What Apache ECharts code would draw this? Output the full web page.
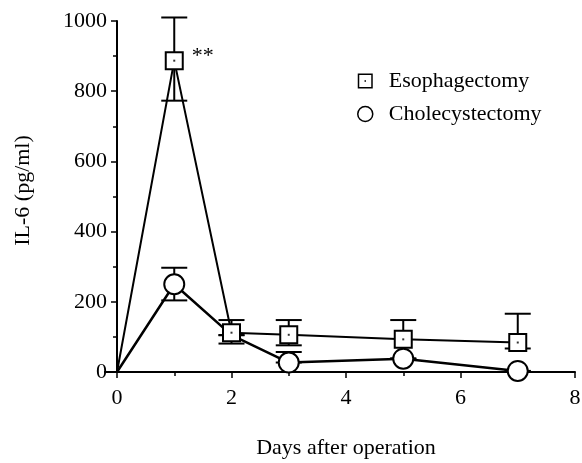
<!DOCTYPE html>
<html>
<head>
<meta charset="utf-8">
<script src="https://cdn.jsdelivr.net/npm/echarts@6/dist/echarts.min.js"></script>
<style>
  html, body { margin: 0; padding: 0; background: #fff; }
  #main { width: 582px; height: 463px; }
</style>
</head>
<body>
<div id="main"></div>
<script>
// days after operation
var days = [0, 1, 2, 3, 5, 7];
// Esophagectomy: mean, upper and lower error bar ends (pg/ml)
var esoMean  = [0, 887, 112, 106, 93, 84];
var esoUpper = [0, 1010, 148, 148, 148, 166];
var esoLower = [0, 773, 81, 76, 38, 67];
// Cholecystectomy: mean, upper and lower error bar ends (pg/ml)
var cholMean  = [0, 250, 105, 27, 38, 3];
var cholUpper = [0, 297, 105, 57, 38, 3];
var cholLower = [0, 204, 105, 27, 38, 3];
var xTicks = [0, 2, 4, 6, 8];
var yTicks = [0, 200, 400, 600, 800, 1000];

var serif = 'Liberation Serif';

function pairs(ys, hidden) {
  return days.map(function (d, i) {
    var item = { value: [d, ys[i]] };
    if (hidden.indexOf(i) >= 0) item.symbolSize = 0;
    return item;
  });
}
function errData(lo, hi) {
  return days.map(function (d, i) { return [d, lo[i], hi[i]]; });
}
function errRender(params, api) {
  var x = api.value(0);
  var lo = api.coord([x, api.value(1)]);
  var hi = api.coord([x, api.value(2)]);
  var w = 13;
  var st = { stroke: '#000', lineWidth: 2 };
  return {
    type: 'group',
    children: [
      { type: 'line', shape: { x1: lo[0], y1: lo[1], x2: hi[0], y2: hi[1] }, style: st },
      { type: 'line', shape: { x1: hi[0] - w, y1: hi[1], x2: hi[0] + w, y2: hi[1] }, style: st },
      { type: 'line', shape: { x1: lo[0] - w, y1: lo[1], x2: lo[0] + w, y2: lo[1] }, style: st }
    ]
  };
}

var myChart = echarts.init(document.getElementById('main'));
var option = {
  backgroundColor: '#fff',
  animation: false,
  textStyle: { fontFamily: serif, color: '#000' },
  grid: { left: 117, right: 7, top: 21, bottom: 91, outerBoundsMode: 'none', containLabel: false },
  legend: {
    orient: 'vertical',
    left: 352,
    top: 65,
    itemWidth: 15,
    itemHeight: 15,
    itemGap: 11,
    textStyle: { fontFamily: serif, fontSize: 22, color: '#000', padding: [0, 0, 0, 11] },
    data: [
      { name: 'Esophagectomy', icon: 'path://M0,0H20V20H0Z M2,2V18H18V2Z M9,9H11V11H9Z',
        itemStyle: { color: '#000', borderWidth: 0 } },
      { name: 'Cholecystectomy', icon: 'circle',
        itemStyle: { color: '#fff', borderColor: '#000', borderWidth: 1.5 } }
    ]
  },
  xAxis: {
    type: 'value',
    min: xTicks[0],
    max: xTicks[xTicks.length - 1],
    interval: 2,
    name: 'Days after operation',
    nameLocation: 'middle',
    nameGap: 65,
    nameTextStyle: { fontFamily: serif, fontSize: 22, color: '#000' },
    axisLine: { lineStyle: { color: '#000', width: 2 } },
    axisTick: { inside: false, length: 6, lineStyle: { color: '#000', width: 1.5 } },
    minorTick: { show: true, splitNumber: 2, length: 4, lineStyle: { color: '#000', width: 1.5 } },
    axisLabel: { fontFamily: serif, fontSize: 22, color: '#000', margin: 15 },
    splitLine: { show: false }
  },
  yAxis: {
    type: 'value',
    min: yTicks[0],
    max: yTicks[yTicks.length - 1],
    interval: 200,
    name: 'IL-6 (pg/ml)',
    nameLocation: 'middle',
    nameGap: 83,
    nameTextStyle: { fontFamily: serif, fontSize: 22, color: '#000', padding: [0, 0, 0, 12] },
    axisLine: { show: true, lineStyle: { color: '#000', width: 2 } },
    axisTick: { show: true, inside: false, length: 6, lineStyle: { color: '#000', width: 1.5 } },
    minorTick: { show: true, splitNumber: 2, length: 4, lineStyle: { color: '#000', width: 1.5 } },
    axisLabel: { fontFamily: serif, fontSize: 22, color: '#000', margin: 10,
      formatter: function (v) { return String(v); } },
    splitLine: { show: false }
  },
  series: [
    {
      name: 'esoErr',
      type: 'custom',
      renderItem: errRender,
      data: errData(esoLower, esoUpper),
      encode: { x: 0, y: [1, 2] },
      z: 1,
      silent: true
    },
    {
      name: 'cholErr',
      type: 'custom',
      renderItem: errRender,
      data: errData(cholLower, cholUpper),
      encode: { x: 0, y: [1, 2] },
      z: 1,
      silent: true
    },
    {
      name: 'Cholecystectomy',
      type: 'line',
      data: pairs(cholMean, [0, 2]),
      symbol: 'circle',
      symbolSize: 20,
      showAllSymbol: true,
      lineStyle: { color: '#000', width: 2.5 },
      itemStyle: { color: '#fff', borderColor: '#000', borderWidth: 2 },
      z: 3
    },
    {
      name: 'Esophagectomy',
      type: 'line',
      data: pairs(esoMean, [0]).map(function (it, i) {
        if (i === 1) it.label = { show: true, formatter: '**', position: 'right', distance: 8,
          offset: [0, -4], fontFamily: serif, fontSize: 22, color: '#000' };
        return it;
      }),
      symbol: 'rect',
      symbolSize: 17,
      showAllSymbol: true,
      lineStyle: { color: '#000', width: 2 },
      itemStyle: { color: '#fff', borderColor: '#000', borderWidth: 2 },
      z: 4
    },
    {
      name: 'esoDot',
      type: 'scatter',
      data: days.slice(1).map(function (d, i) { return [d, esoMean[i + 1]]; }),
      symbol: 'rect',
      symbolSize: 2,
      itemStyle: { color: '#000' },
      z: 5,
      silent: true
    }
  ]
};
myChart.setOption(option);
</script>
</body>
</html>
